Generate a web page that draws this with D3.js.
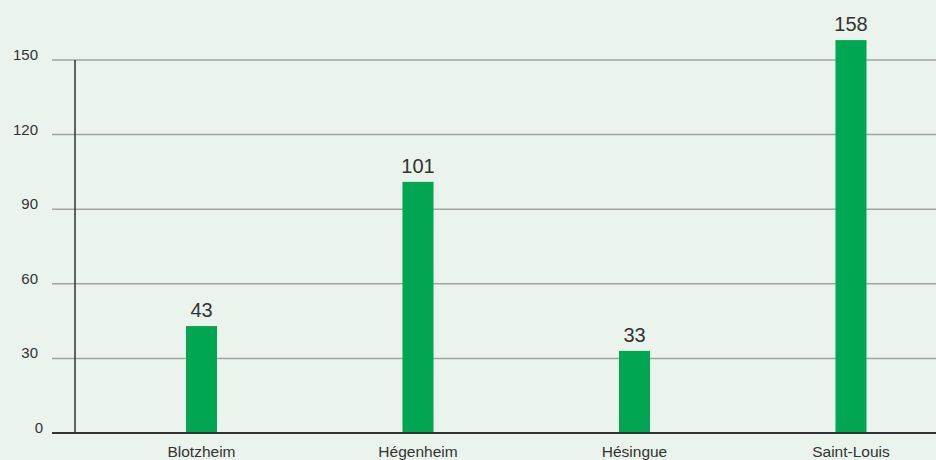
<!DOCTYPE html>
<html>
<head>
<meta charset="utf-8">
<script src="https://cdn.jsdelivr.net/npm/d3@7"></script>
<style>
  body { margin: 0; background: #eaf4ec; }
  svg { display: block; font-family: "Liberation Sans", Arial, sans-serif; }
</style>
</head>
<body>
<div id="chart"></div>
<script>
var communes = ["Blotzheim", "Hégenheim", "Hésingue", "Saint-Louis"];
var values = [43, 101, 33, 158];
var yTicks = [0, 30, 60, 90, 120, 150];

var width = 936, height = 460;
var svg = d3.select("#chart").append("svg")
    .attr("width", width)
    .attr("height", height);

svg.append("rect").attr("width", width).attr("height", height).attr("fill", "#eaf4ec");

var y = d3.scaleLinear().domain([0, 150]).range([433, 60]);
var x = d3.scalePoint().domain(communes).range([201.5, 851]);
var barW = 31;

// grid lines
svg.append("g").selectAll("line")
    .data(yTicks.filter(function(d) { return d > 0; }))
    .enter().append("line")
    .attr("x1", 52).attr("x2", width)
    .attr("y1", function(d) { return y(d); })
    .attr("y2", function(d) { return y(d); })
    .attr("stroke", "#a0a5a1")
    .attr("stroke-width", 1.5);

// y tick labels
svg.append("g").selectAll("text")
    .data(yTicks)
    .enter().append("text")
    .attr("x", function(d) { return d == 0 ? 43 : 38; })
    .attr("y", function(d) { return y(d); })
    .attr("text-anchor", "end")
    .attr("font-size", 15)
    .attr("fill", "#333")
    .text(function(d) { return d; });

// y axis line
svg.append("line")
    .attr("x1", 75).attr("x2", 75)
    .attr("y1", y(150)).attr("y2", y(0))
    .attr("stroke", "#333").attr("stroke-width", 1.5);

// bars
svg.append("g").selectAll("rect")
    .data(values)
    .enter().append("rect")
    .attr("x", function(d, i) { return x(communes[i]) - barW / 2; })
    .attr("y", function(d) { return y(d); })
    .attr("width", barW)
    .attr("height", function(d) { return y(0) - y(d); })
    .attr("fill", "#00a651");

// value labels
svg.append("g").selectAll("text")
    .data(values)
    .enter().append("text")
    .attr("x", function(d, i) { return x(communes[i]); })
    .attr("y", function(d) { return y(d) - 9; })
    .attr("text-anchor", "middle")
    .attr("font-size", 20)
    .attr("fill", "#333")
    .text(function(d) { return d; });

// zero line
svg.append("line")
    .attr("x1", 52).attr("x2", width)
    .attr("y1", y(0)).attr("y2", y(0))
    .attr("stroke", "#333").attr("stroke-width", 2);

// category labels
svg.append("g").selectAll("text")
    .data(communes)
    .enter().append("text")
    .attr("x", function(d) { return x(d); })
    .attr("y", 457)
    .attr("text-anchor", "middle")
    .attr("font-size", 15.5)
    .attr("fill", "#333")
    .text(function(d) { return d; });
</script>
</body>
</html>
